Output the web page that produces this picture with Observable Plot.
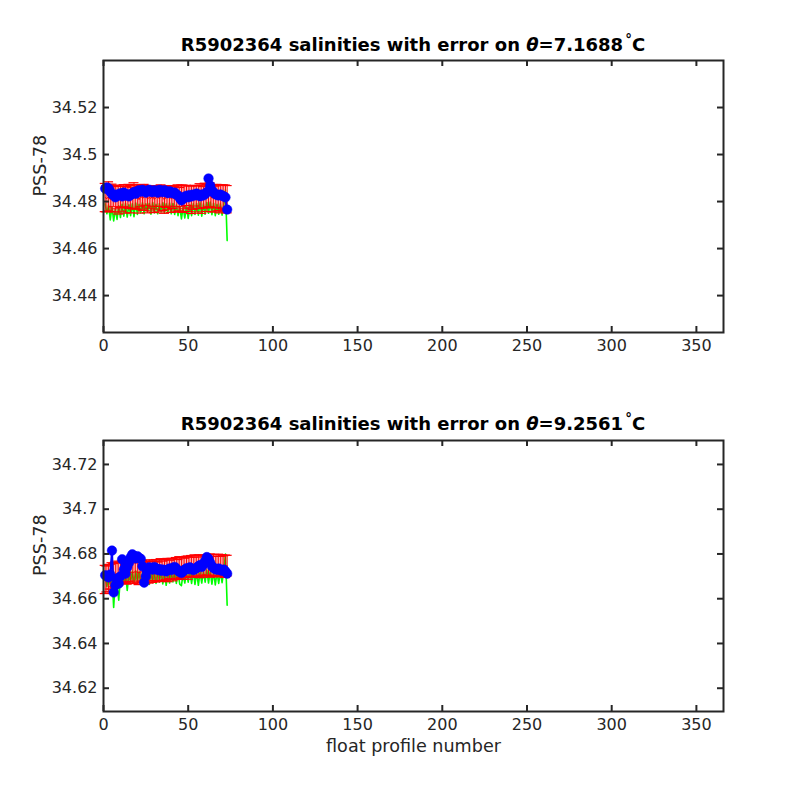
<!DOCTYPE html>
<html>
<head>
<meta charset="utf-8">
<script src="https://cdn.jsdelivr.net/npm/d3@7"></script>
<script src="https://cdn.jsdelivr.net/npm/@observablehq/plot@0.6"></script>
<style>
  body { margin: 0; background: #fff; font-family: "DejaVu Sans", sans-serif; }
  #wrap { position: relative; width: 800px; height: 800px; background: #fff; }
  .panel { position: absolute; left: 0; width: 800px; height: 400px; }
  .title { position: absolute; left: 103px; width: 620px; text-align: center; font-weight: bold;
           font-size: 18px; line-height: 20px; color: #000; white-space: nowrap; }
  .title .deg { font-size: 0.75em; position: relative; top: -0.55em; margin-left: 0.15em; }
</style>
</head>
<body>
<div id="wrap"></div>
<script>
// ---------- shared axis data ----------
const floatId = "R5902364";
const xDomain = [0, 366];
const xTicks = [0, 50, 100, 150, 200, 250, 300, 350];

// ---------- panel 1 : theta = 7.1688 ----------
const theta1 = "7.1688";
const yDomain1 = [34.4243, 34.54];
const yTicks1 = [34.44, 34.46, 34.48, 34.5, 34.52];
// float salinity (blue)
const floatSal1 = [
34.4855,34.4860,34.4856,34.4842,34.4832,34.4826,34.4818,34.4830,34.4828,34.4835,
34.4822,34.4838,34.4826,34.4831,34.4822,34.4828,34.4835,34.4840,34.4833,34.4845,
34.4848,34.4842,34.4850,34.4845,34.4838,34.4847,34.4850,34.4842,34.4840,34.4848,
34.4845,34.4838,34.4850,34.4846,34.4840,34.4848,34.4842,34.4836,34.4844,34.4840,
34.4835,34.4838,34.4830,34.4826,34.4815,34.4805,34.4812,34.4820,34.4825,34.4818,
34.4828,34.4822,34.4830,34.4826,34.4834,34.4828,34.4822,34.4830,34.4826,34.4832,
34.4840,34.4898,34.4868,34.4848,34.4838,34.4832,34.4828,34.4826,34.4830,34.4825,
34.4822,34.4818,34.4766];
// calibrated salinity (red) and its error
const calSal1 = [
34.4817,34.4812,34.4822,34.4808,34.4816,34.4824,34.4810,34.4818,34.4806,34.4820,
34.4812,34.4825,34.4808,34.4818,34.4822,34.4810,34.4815,34.4826,34.4812,34.4820,
34.4808,34.4823,34.4814,34.4818,34.4826,34.4810,34.4819,34.4813,34.4824,34.4809,
34.4817,34.4822,34.4811,34.4825,34.4814,34.4808,34.4820,34.4816,34.4823,34.4811,
34.4818,34.4809,34.4822,34.4815,34.4810,34.4824,34.4812,34.4818,34.4826,34.4813,
34.4820,34.4808,34.4817,34.4825,34.4812,34.4819,34.4823,34.4810,34.4818,34.4826,
34.4815,34.4822,34.4828,34.4814,34.4820,34.4811,34.4824,34.4816,34.4812,34.4821,
34.4815,34.4818,34.4810];
const calErr1 = [
0.0060,0.0056,0.0062,0.0050,0.0058,0.0046,0.0055,0.0049,0.0059,0.0045,
0.0053,0.0047,0.0057,0.0044,0.0051,0.0058,0.0046,0.0054,0.0043,0.0052,
0.0057,0.0045,0.0050,0.0055,0.0042,0.0058,0.0047,0.0053,0.0044,0.0056,
0.0049,0.0043,0.0055,0.0046,0.0052,0.0058,0.0045,0.0051,0.0043,0.0057,
0.0048,0.0054,0.0044,0.0056,0.0050,0.0046,0.0058,0.0049,0.0043,0.0055,
0.0047,0.0059,0.0050,0.0044,0.0056,0.0048,0.0053,0.0060,0.0046,0.0052,
0.0057,0.0045,0.0051,0.0058,0.0047,0.0055,0.0049,0.0054,0.0060,0.0050,
0.0056,0.0052,0.0058];
// mapped salinity (green)
const mapSal1 = [
34.4790,34.4748,34.4785,34.4722,34.4778,34.4718,34.4770,34.4724,34.4782,34.4732,
34.4788,34.4738,34.4792,34.4734,34.4786,34.4740,34.4790,34.4736,34.4794,34.4745,
34.4788,34.4752,34.4795,34.4748,34.4790,34.4755,34.4792,34.4746,34.4796,34.4752,
34.4788,34.4748,34.4791,34.4756,34.4795,34.4750,34.4790,34.4754,34.4794,34.4748,
34.4792,34.4745,34.4785,34.4740,34.4780,34.4726,34.4776,34.4730,34.4782,34.4728,
34.4786,34.4740,34.4790,34.4745,34.4792,34.4742,34.4795,34.4738,34.4790,34.4746,
34.4796,34.4750,34.4798,34.4744,34.4793,34.4740,34.4788,34.4746,34.4790,34.4742,
34.4785,34.4850,34.4634];

// ---------- panel 2 : theta = 9.2561 ----------
const theta2 = "9.2561";
const yDomain2 = [34.6096, 34.7307];
const yTicks2 = [34.62, 34.64, 34.66, 34.68, 34.7, 34.72];
const floatSal2 = [
34.6705,34.6700,34.6695,34.6708,34.6815,34.6628,34.6660,34.6690,34.6668,34.6700,
34.6776,34.6730,34.6712,34.6740,34.6760,34.6785,34.6798,34.6792,34.6780,34.6790,
34.6782,34.6778,34.6745,34.6672,34.6700,34.6728,34.6740,34.6735,34.6730,34.6742,
34.6735,34.6728,34.6732,34.6725,34.6730,34.6726,34.6722,34.6730,34.6735,34.6728,
34.6738,34.6742,34.6735,34.6725,34.6720,34.6715,34.6722,34.6730,34.6736,34.6732,
34.6740,34.6735,34.6728,34.6732,34.6738,34.6745,34.6750,34.6742,34.6755,34.6768,
34.6786,34.6778,34.6760,34.6745,34.6738,34.6732,34.6730,34.6735,34.6728,34.6725,
34.6730,34.6722,34.6712];
const calSal2 = [
34.6686,34.6688,34.6692,34.6698,34.6702,34.6705,34.6708,34.6712,34.6714,34.6716,
34.6718,34.6716,34.6719,34.6717,34.6720,34.6718,34.6715,34.6719,34.6721,34.6718,
34.6716,34.6719,34.6722,34.6720,34.6717,34.6719,34.6722,34.6724,34.6721,34.6723,
34.6725,34.6722,34.6726,34.6728,34.6725,34.6727,34.6730,34.6728,34.6731,34.6733,
34.6730,34.6734,34.6736,34.6733,34.6737,34.6739,34.6736,34.6740,34.6742,34.6739,
34.6743,34.6745,34.6742,34.6746,34.6744,34.6747,34.6745,34.6748,34.6746,34.6749,
34.6747,34.6750,34.6748,34.6746,34.6749,34.6747,34.6750,34.6748,34.6746,34.6749,
34.6747,34.6745,34.6748];
const calErr2 = [
0.0063,0.0058,0.0061,0.0055,0.0059,0.0052,0.0056,0.0049,0.0054,0.0046,
0.0050,0.0044,0.0048,0.0052,0.0043,0.0049,0.0045,0.0051,0.0042,0.0047,
0.0053,0.0044,0.0049,0.0041,0.0050,0.0046,0.0052,0.0043,0.0048,0.0044,
0.0050,0.0042,0.0047,0.0051,0.0043,0.0049,0.0045,0.0052,0.0041,0.0047,
0.0050,0.0044,0.0048,0.0042,0.0051,0.0045,0.0049,0.0041,0.0047,0.0052,
0.0043,0.0048,0.0044,0.0050,0.0042,0.0047,0.0051,0.0043,0.0049,0.0045,
0.0041,0.0048,0.0052,0.0044,0.0049,0.0042,0.0047,0.0051,0.0043,0.0048,
0.0045,0.0050,0.0046];
const mapSal2 = [
34.6705,34.6655,34.6700,34.6660,34.6712,34.6561,34.6690,34.6662,34.6593,34.6700,
34.6715,34.6668,34.6720,34.6637,34.6710,34.6672,34.6722,34.6668,34.6725,34.6674,
34.6720,34.6666,34.6718,34.6662,34.6712,34.6668,34.6664,34.6715,34.6672,34.6722,
34.6668,34.6725,34.6674,34.6720,34.6666,34.6718,34.6660,34.6715,34.6670,34.6722,
34.6675,34.6725,34.6668,34.6718,34.6665,34.6658,34.6712,34.6670,34.6720,34.6674,
34.6724,34.6668,34.6722,34.6664,34.6718,34.6660,34.6720,34.6670,34.6725,34.6674,
34.6728,34.6670,34.6724,34.6665,34.6720,34.6662,34.6718,34.6668,34.6722,34.6672,
34.6725,34.6800,34.6571];

const INK = "#262626";
const ML = 103, MR = 77, W = 800, H = 400;
const CAP = 2.95; // half width of error-bar caps (profile units)

function makePanel(opt) {
  const rows = opt.floatSal.map((s, i) => ({
    p: i + 1, s, c: opt.calSal[i], e: opt.calErr[i], m: opt.mapSal[i]
  }));
  const fh = H - opt.marginTop - opt.marginBottom;
  const fw = W - ML - MR;
  const marks = [
    Plot.line(rows, {x: "p", y: "m", stroke: "#00ff00", strokeWidth: 1.6}),
    Plot.ruleX(rows, {x: "p", y1: d => d.c - d.e, y2: d => d.c + d.e, stroke: "#ff0000", strokeWidth: 1}),
    Plot.ruleY(rows, {y: d => d.c - d.e, x1: d => d.p - CAP, x2: d => d.p + CAP, stroke: "#ff0000", strokeWidth: 1.2}),
    Plot.ruleY(rows, {y: d => d.c + d.e, x1: d => d.p - CAP, x2: d => d.p + CAP, stroke: "#ff0000", strokeWidth: 1.2}),
    Plot.line(rows, {x: "p", y: "c", stroke: "#ff0000", strokeWidth: 1}),
    Plot.line(rows, {x: "p", y: "s", stroke: "#0000ff", strokeWidth: 2}),
    Plot.dot(rows, {x: "p", y: "s", r: 4.8, fill: "#0000ff", stroke: "#0000ff", strokeWidth: 0.5}),
    Plot.frame({stroke: INK, strokeWidth: 2}),
    Plot.tickX(xTicks, {x: d => d, insetTop: fh - 6, stroke: INK, strokeWidth: 2}),
    Plot.tickX(xTicks, {x: d => d, insetBottom: fh - 6, stroke: INK, strokeWidth: 2}),
    Plot.tickY(opt.yTicks, {y: d => d, insetRight: fw - 6, stroke: INK, strokeWidth: 2}),
    Plot.tickY(opt.yTicks, {y: d => d, insetLeft: fw - 6, stroke: INK, strokeWidth: 2}),
    Plot.axisX({ticks: xTicks, tickSize: 0, tickPadding: 7, label: null, tickFormat: d => String(d), fill: INK, fontSize: 16}),
    Plot.axisY({ticks: opt.yTicks, tickSize: 0, tickPadding: 6, label: null, tickFormat: d => String(d), fill: INK, fontSize: 16}),
    Plot.text(["PSS-78"], {text: d => d, frameAnchor: "left", dx: -63, rotate: -90, fill: INK, fontSize: 17.6})
  ];
  if (opt.xLabel) {
    marks.push(Plot.text([opt.xLabel], {text: d => d, frameAnchor: "bottom", dy: 40, fill: INK, fontSize: 17.6}));
  }
  return Plot.plot({
    width: W, height: H,
    marginLeft: ML, marginRight: MR, marginTop: opt.marginTop, marginBottom: opt.marginBottom,
    x: {domain: xDomain, label: null},
    y: {domain: opt.yDomain, label: null},
    style: {fontFamily: "DejaVu Sans", fontSize: "16px", color: INK, background: "white", overflow: "visible"},
    marks
  });
}

const wrap = document.getElementById("wrap");
const panels = [
  {top: 0, theta: theta1, titleTop: 35, floatSal: floatSal1, calSal: calSal1, calErr: calErr1, mapSal: mapSal1,
   yDomain: yDomain1, yTicks: yTicks1, marginTop: 60, marginBottom: 68},
  {top: 400, theta: theta2, titleTop: 414, floatSal: floatSal2, calSal: calSal2, calErr: calErr2, mapSal: mapSal2,
   yDomain: yDomain2, yTicks: yTicks2, marginTop: 40, marginBottom: 89, xLabel: "float profile number"}
];
for (const p of panels) {
  const div = document.createElement("div");
  div.className = "panel";
  div.style.top = p.top + "px";
  div.appendChild(makePanel(p));
  wrap.appendChild(div);
  const t = document.createElement("div");
  t.className = "title";
  t.style.top = p.titleTop + "px";
  t.innerHTML = `${floatId} salinities with error on <i>θ</i>=${p.theta}<span class="deg">°</span>C`;
  wrap.appendChild(t);
}
</script>
</body>
</html>
